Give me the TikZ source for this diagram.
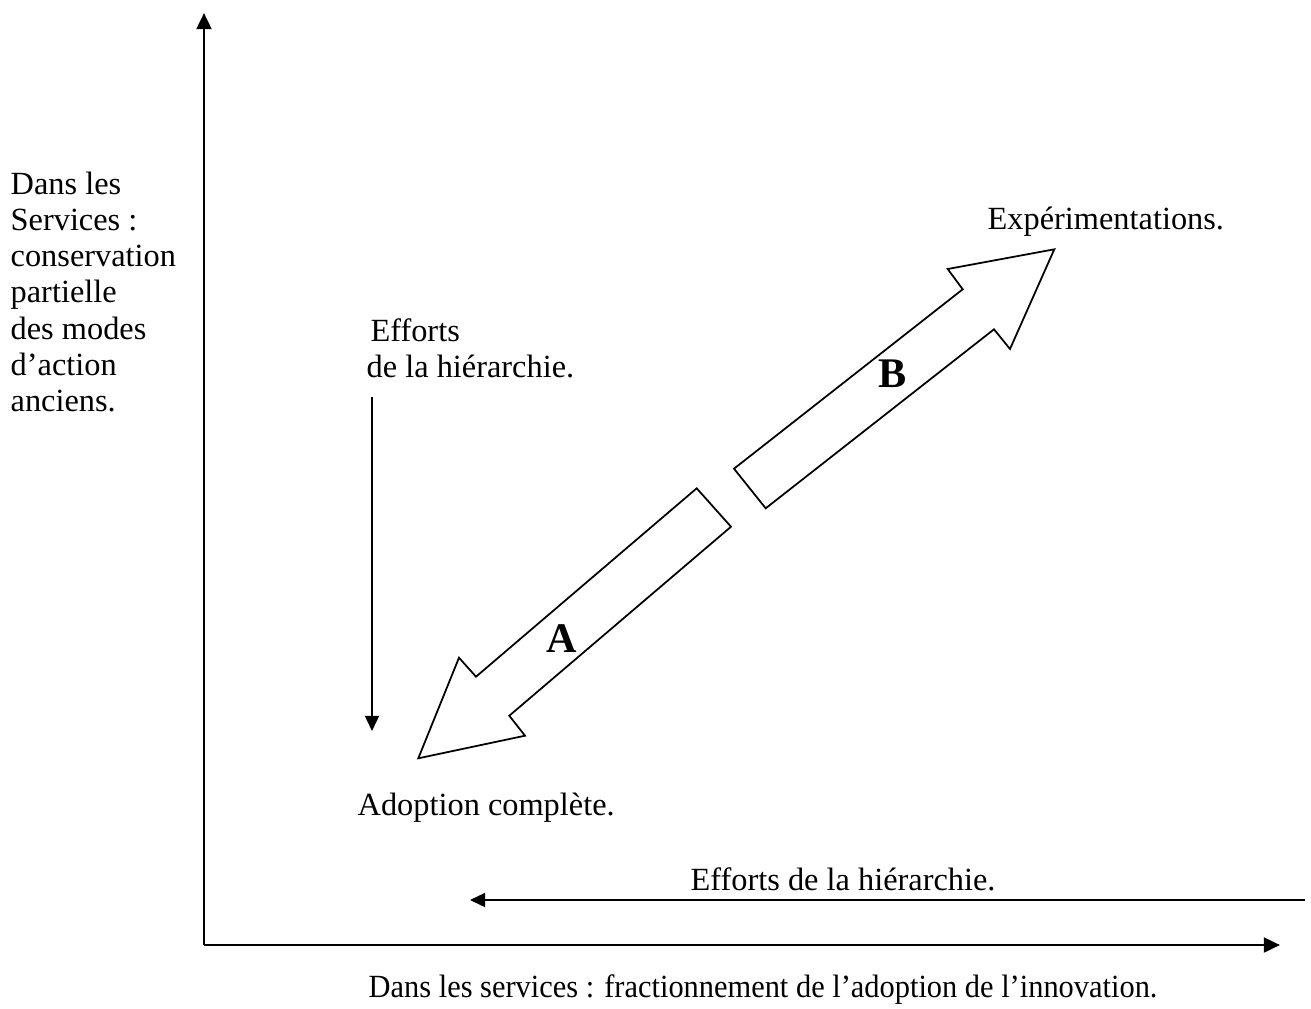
\documentclass[tikz,border=0pt]{standalone}
\usepackage{fontspec}
\setmainfont{Liberation Serif}
\usetikzlibrary{arrows.meta}

\begin{document}
\begin{tikzpicture}[x=0.01cm,y=-0.01cm,
  every node/.style={inner sep=0pt,font=\fontsize{9.2}{10.3}\selectfont},
  axe/.style={line width=0.8pt,-{Triangle[length=4.6pt,width=4.2pt]}},
  effort/.style={line width=0.45pt,-{Triangle[length=4.3pt,width=4pt]}},
  fleche/.style={line width=0.5pt,line join=miter},
  lettre/.style={font=\fontsize{12}{13}\selectfont\bfseries}]
\useasboundingbox (0,0) rectangle (1311,1008);
% axes
\coordinate (O) at (204,945);
\coordinate (Ytop) at (204,13);
\coordinate (Xend) at (1280,945);
\draw[axe] (O) -- (Ytop);
\draw[axe] (O) -- (Xend);
% efforts de la hierarchie
\coordinate (vh) at (372,397);
\coordinate (vb) at (372,731);
\coordinate (hd) at (1305,900);
\coordinate (hg) at (470,900);
\draw[effort] (vh) -- (vb);
\draw[effort] (hd) -- (hg);
% fleche A
\draw[fleche] (696.7,488.3) -- (731,526.7) -- (509.3,715.7) -- (525,735.7)
  -- (418.3,758.3) -- (459,657.7) -- (476,676.7) -- cycle;
% fleche B
\draw[fleche] (734,468.7) -- (765.7,508.3) -- (994,329.3) -- (1010,349)
  -- (1054.3,249.3) -- (947.7,269) -- (962.7,289.3) -- cycle;
\node[lettre] (A) at (562,639) {A};
\node[lettre] (B) at (893,374) {B};
% textes
\node[anchor=north west,align=left] (ordonnee) at (10,171)
  {Dans les\\Services :\\conservation\\partielle\\des modes\\d’action\\anciens.};
\node[anchor=north west,align=left] (effv) at (366,318)
  {\hspace*{0.12em}Efforts\\de la hiérarchie.};
\node[anchor=base west] (exp) at (987,229) {Expérimentations.};
\node[anchor=base west] (adop) at (357,815) {Adoption complète.};
\node[anchor=base west] (effh) at (690,890) {Efforts de la hiérarchie.};
\node[anchor=base west] (abscisse) at (368,997)
  {\scalebox{0.94}[1]{Dans les services : fractionnement de l’adoption de l’innovation.}};
\end{tikzpicture}
\end{document}
